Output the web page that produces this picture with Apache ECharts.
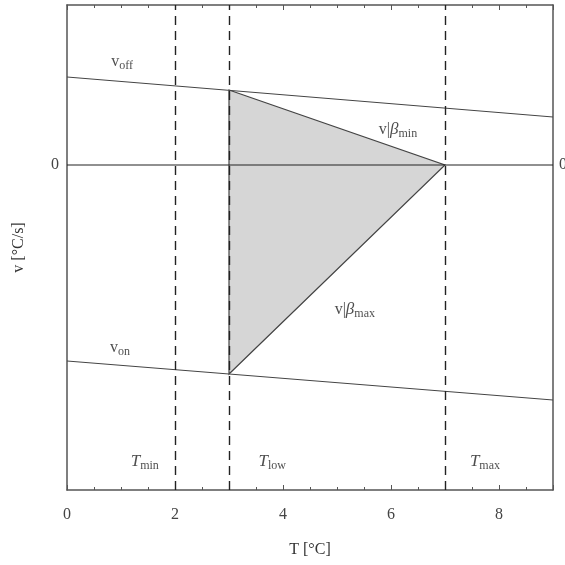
<!DOCTYPE html>
<html><head><meta charset="utf-8">
<script src="https://cdn.jsdelivr.net/npm/echarts@6/dist/echarts.min.js"></script>
<style>html,body{margin:0;padding:0;background:#fff}#c{width:565px;height:565px}</style>
</head><body><div id="c"></div>
<script>
// Data
var xTicks = [0, 2, 4, 6, 8];
var vOff = [[0, 1.76], [9, 0.96]];
var vOn = [[0, -3.92], [9, -4.70]];
var zeroLine = [[0, 0], [9, 0]];
var triangle = [[3, 1.50], [7, 0], [3, -4.18]];
var thresholds = [2, 3, 7];
var annotations = [
  {pos: [1.02, 2.06], text: '{v|v}{s|off}'},
  {pos: [6.13, 0.70], text: '{v|v|}{b|β}{s|min}'},
  {pos: [5.33, -2.90], text: '{v|v|}{b|β}{s|max}'},
  {pos: [0.98, -3.66], text: '{v|v}{s|on}'},
  {pos: [1.44, -5.94], text: '{t|T}{s|min}'},
  {pos: [3.80, -5.94], text: '{t|T}{s|low}'},
  {pos: [7.74, -5.94], text: '{t|T}{s|max}'}
];

var FONT = 'Liberation Serif';
var chart = echarts.init(document.getElementById('c'));
var rich = {
  v: {fontFamily: FONT, fontSize: 16, color: '#222', lineHeight: 20, verticalAlign: 'middle'},
  b: {fontFamily: FONT, fontSize: 17, fontStyle: 'italic', color: '#222', lineHeight: 20, verticalAlign: 'middle'},
  t: {fontFamily: FONT, fontSize: 17, fontStyle: 'italic', color: '#222', lineHeight: 20, verticalAlign: 'middle'},
  s: {fontFamily: FONT, fontSize: 12, color: '#222', lineHeight: 12, verticalAlign: 'bottom'}
};
var axisLineStyle = {color: '#555', width: 1.5};
chart.setOption({
  animation: false,
  grid: {left: 67, right: 12, top: 5, bottom: 75, outerBoundsMode: 'none', containLabel: false},
  xAxis: [{
    type: 'value', min: 0, max: 9, interval: 2, position: 'bottom',
    name: 'T [°C]', nameLocation: 'middle', nameGap: 52,
    nameTextStyle: {fontFamily: FONT, fontSize: 16, color: '#333'},
    axisLine: {show: true, onZero: false, lineStyle: axisLineStyle},
    axisTick: {show: true, inside: true, length: 5, lineStyle: {color: '#555'}},
    minorTick: {show: true, splitNumber: 4, length: 3, lineStyle: {color: '#555'}},
    axisLabel: {fontFamily: FONT, fontSize: 16, color: '#444', margin: 17,
      formatter: function (v) { return xTicks.indexOf(v) >= 0 ? String(v) : ''; }},
    splitLine: {show: false}
  }, {
    type: 'value', min: 0, max: 9, interval: 2, position: 'top',
    axisLine: {show: true, onZero: false, lineStyle: axisLineStyle},
    axisTick: {show: true, inside: true, length: 5, lineStyle: {color: '#555'}},
    minorTick: {show: true, splitNumber: 4, length: 3, lineStyle: {color: '#555'}},
    axisLabel: {show: false}, splitLine: {show: false}
  }],
  yAxis: [{
    type: 'value', min: -6.5, max: 3.2, interval: 6.5, position: 'left',
    name: 'v [°C/s]', nameLocation: 'middle', nameGap: 40,
    nameTextStyle: {fontFamily: FONT, fontSize: 16, color: '#333'},
    axisLine: {show: true, onZero: false, lineStyle: axisLineStyle},
    axisTick: {show: false},
    axisLabel: {fontFamily: FONT, fontSize: 16, color: '#444', margin: 8,
      formatter: function (v) { return v === 0 ? '0' : ''; }},
    splitLine: {show: false}
  }, {
    type: 'value', min: -6.5, max: 3.2, interval: 6.5, position: 'right',
    axisLine: {show: true, onZero: false, lineStyle: axisLineStyle},
    axisTick: {show: false},
    axisLabel: {fontFamily: FONT, fontSize: 16, color: '#444', margin: 6,
      formatter: function (v) { return v === 0 ? '0' : ''; }},
    splitLine: {show: false}
  }],
  series: [
    {
      type: 'custom', renderItem: function (params, api) {
        var pts = triangle.map(function (p) { return api.coord(p); });
        return {type: 'polygon', shape: {points: pts},
          style: {fill: '#d6d6d6', stroke: '#444', lineWidth: 1.2}};
      }, data: [0], silent: true, z: 1
    },
    {type: 'line', data: zeroLine, symbol: 'none', lineStyle: {color: '#222', width: 1.2}, z: 3},
    {type: 'line', data: vOff, symbol: 'none', lineStyle: {color: '#444', width: 1}, z: 3},
    {type: 'line', data: vOn, symbol: 'none', lineStyle: {color: '#444', width: 1}, z: 3},
    {
      type: 'line', data: [], symbol: 'none', z: 4,
      markLine: {
        silent: true, symbol: 'none', label: {show: false},
        lineStyle: {color: '#222', type: [9, 6], width: 1.4},
        data: thresholds.map(function (t) { return {xAxis: t}; })
      }
    },
    {
      type: 'scatter', symbolSize: 0, z: 5,
      data: annotations.map(function (a) { return {value: a.pos, label: {formatter: a.text}}; }),
      label: {show: true, position: 'inside', rich: rich}
    }
  ]
});
</script></body></html>
